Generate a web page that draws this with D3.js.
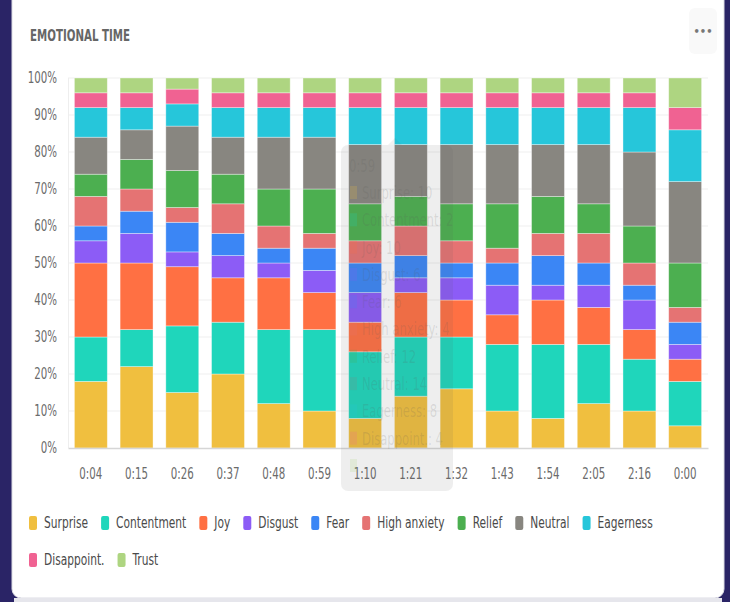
<!DOCTYPE html>
<html>
<head>
<meta charset="UTF-8">
<script src="https://d3js.org/d3.v7.min.js"></script>
<style>
  body { margin: 0; background: #2a2466; }
  svg { display: block; }
  text { font-family: "DejaVu Sans Condensed", "Liberation Sans", sans-serif; }
</style>
</head>
<body>
<svg id="chart" width="730" height="602"></svg>
<script>
// time labels along the x axis
const times = ["0:04", "0:15", "0:26", "0:37", "0:48", "0:59", "1:10", "1:21", "1:32", "1:43", "1:54", "2:05", "2:16", "0:00"];

const emotions = ["Surprise", "Contentment", "Joy", "Disgust", "Fear", "High anxiety", "Relief", "Neutral", "Eagerness", "Disappoint.", "Trust"];
const colors = ["#f0bf3f", "#1fd6bb", "#ff7043", "#8c5cf6", "#3b86f5", "#e57373", "#4caf50", "#888680", "#26c6da", "#f06292", "#aed581"];

// percent per emotion, one entry per time slot
const surprise    = [18, 22, 15, 20, 12, 10,  8, 14, 16, 10,  8, 12, 10,  6];
const contentment = [12, 10, 18, 14, 20, 22, 18, 16, 14, 18, 20, 16, 14, 12];
const joy         = [20, 18, 16, 12, 14, 10,  8, 12, 10,  8, 12, 10,  8,  6];
const disgust     = [ 6,  8,  4,  6,  4,  6,  8,  4,  6,  8,  4,  6,  8,  4];
const fear        = [ 4,  6,  8,  6,  4,  6,  8,  6,  4,  6,  8,  6,  4,  6];
const highAnxiety = [ 8,  6,  4,  8,  6,  4,  6,  8,  6,  4,  6,  8,  6,  4];
const relief      = [ 6,  8, 10,  8, 10, 12, 10,  8, 10, 12, 10,  8, 10, 12];
const neutral     = [10,  8, 12, 10, 14, 14, 16, 14, 16, 16, 14, 16, 20, 22];
const eagerness   = [ 8,  6,  6,  8,  8,  8, 10, 10, 10, 10, 10, 10, 12, 14];
const disappoint  = [ 4,  4,  4,  4,  4,  4,  4,  4,  4,  4,  4,  4,  4,  6];
const trust       = [ 4,  4,  3,  4,  4,  4,  4,  4,  4,  4,  4,  4,  4,  8];

const yTicks = [0, 10, 20, 30, 40, 50, 60, 70, 80, 90, 100];

const seriesVals = [surprise, contentment, joy, disgust, fear, highAnxiety, relief, neutral, eagerness, disappoint, trust];

// rows for d3.stack
const rows = times.map((t, i) => {
  const r = { time: t };
  emotions.forEach((e, j) => { r[e] = seriesVals[j][i]; });
  return r;
});

const SQ = 0.76; // squeeze text horizontally, the original font is narrow

function narrow(sel, s) {
  s = s || SQ;
  sel.each(function() {
    const t = d3.select(this);
    const tx = +t.attr("x") || 0;
    t.attr("transform", "translate(" + tx + ",0) scale(" + s + ",1) translate(" + (-tx) + ",0)");
  });
}

const svg = d3.select("#chart");

// card
svg.append("rect").attr("x", 12).attr("y", -20).attr("width", 712).attr("height", 618)
  .attr("rx", 9).attr("fill", "#fff").attr("stroke", "#dcdce4");
svg.append("rect").attr("x", 14).attr("y", 598).attr("width", 708).attr("height", 4).attr("fill", "#e6e6ec");

svg.append("text").attr("x", 30).attr("y", 41)
  .attr("font-size", 15).attr("font-weight", "bold").attr("fill", "#666")
  .text("EMOTIONAL TIME").call(narrow);

// "..." button
svg.append("rect").attr("x", 689).attr("y", 8).attr("width", 28).attr("height", 46)
  .attr("rx", 6).attr("fill", "#f9f9f9");
svg.append("text").attr("x", 703).attr("y", 35).attr("text-anchor", "middle")
  .attr("font-size", 11).attr("font-weight", "bold").attr("fill", "#777").text("•••");

const x = d3.scaleBand().domain(times).range([68, 708]).paddingInner(0.28).paddingOuter(0.14);
const y = d3.scaleLinear().domain([0, 100]).range([448, 78]);

// grid
svg.append("g").selectAll("line").data(yTicks.slice(1)).join("line")
  .attr("x1", 68).attr("x2", 708)
  .attr("y1", d => y(d)).attr("y2", d => y(d))
  .attr("stroke", "#efefef");

svg.append("line").attr("x1", 68.5).attr("x2", 68.5).attr("y1", 78).attr("y2", 448).attr("stroke", "#eeeeee");

// y axis
const yAxis = svg.append("g").attr("transform", "translate(68,0)")
  .call(d3.axisLeft(y).tickValues(yTicks).tickFormat(d => d + "%").tickSize(0).tickPadding(11));
yAxis.select(".domain").remove();
yAxis.selectAll("text").attr("font-size", 15).attr("fill", "#6b6b6b").call(narrow);

// stacked bars
const stack = d3.stack().keys(emotions);
const layers = stack(rows);

svg.append("g").selectAll("g").data(layers).join("g")
  .attr("fill", (d, i) => colors[i])
  .selectAll("rect").data(d => d).join("rect")
  .attr("x", d => x(d.data.time))
  .attr("width", x.bandwidth())
  .attr("y", d => y(d[1]))
  .attr("height", d => y(d[0]) - y(d[1]))
  .attr("stroke", "rgba(255,255,255,0.45)")
  .attr("stroke-width", 0.8);

// x axis
const xAxis = svg.append("g").attr("transform", "translate(0,448)")
  .call(d3.axisBottom(x).tickSize(0).tickPadding(20));
xAxis.select(".domain").attr("stroke", "#d6d6d6").attr("stroke-width", 1.5);
xAxis.selectAll("text").attr("font-size", 15).attr("fill", "#6b6b6b").call(narrow);

// faded tooltip left over the 1:10 column (shows 0:59)
const tipIdx = 5;
const tip = svg.append("g");
tip.append("clipPath").attr("id", "tipclip")
  .append("rect").attr("x", 341).attr("y", 145).attr("width", 112).attr("height", 346);
tip.append("rect").attr("x", 341).attr("y", 145).attr("width", 112).attr("height", 346)
  .attr("rx", 7).attr("fill", "rgba(90,90,90,0.1)");
tip.append("path").attr("d", "M388,145 L395,138 L402,145 Z").attr("fill", "rgba(90,90,90,0.08)");
const tipText = tip.append("g").attr("clip-path", "url(#tipclip)");
tipText.append("text").attr("x", 349).attr("y", 172).attr("font-size", 17)
  .attr("fill", "rgba(90,90,90,0.16)").text(times[tipIdx]).call(narrow);
emotions.forEach((e, j) => {
  const yy = 199 + j * 27.3;
  tipText.append("rect").attr("x", 350).attr("y", yy - 13).attr("width", 7).attr("height", 13)
    .attr("fill", colors[j]).attr("opacity", 0.2);
  if (j < emotions.length - 1) {
    tipText.append("text").attr("x", 362).attr("y", yy).attr("font-size", 17)
      .attr("fill", "rgba(90,90,90,0.16)").text(e + ": " + seriesVals[j][tipIdx]).call(narrow);
  }
});

// legend, wraps to a second line
const LS = 0.74;
const legend = svg.append("g");
let lx = 29, ly = 523;
emotions.forEach((e, j) => {
  const g = legend.append("g");
  g.append("rect").attr("x", lx).attr("y", ly - 7).attr("width", 8).attr("height", 14)
    .attr("rx", 2).attr("fill", colors[j]);
  const t = g.append("text").attr("x", lx + 15).attr("y", ly + 5)
    .attr("font-size", 16).attr("fill", "#4a4a4a").text(e);
  const w = t.node().getComputedTextLength() * LS;
  t.call(narrow, LS);
  lx += 15 + w + 13;
  if (j < emotions.length - 1 && lx > 600) { lx = 29; ly += 37; }
});
</script>
</body>
</html>
